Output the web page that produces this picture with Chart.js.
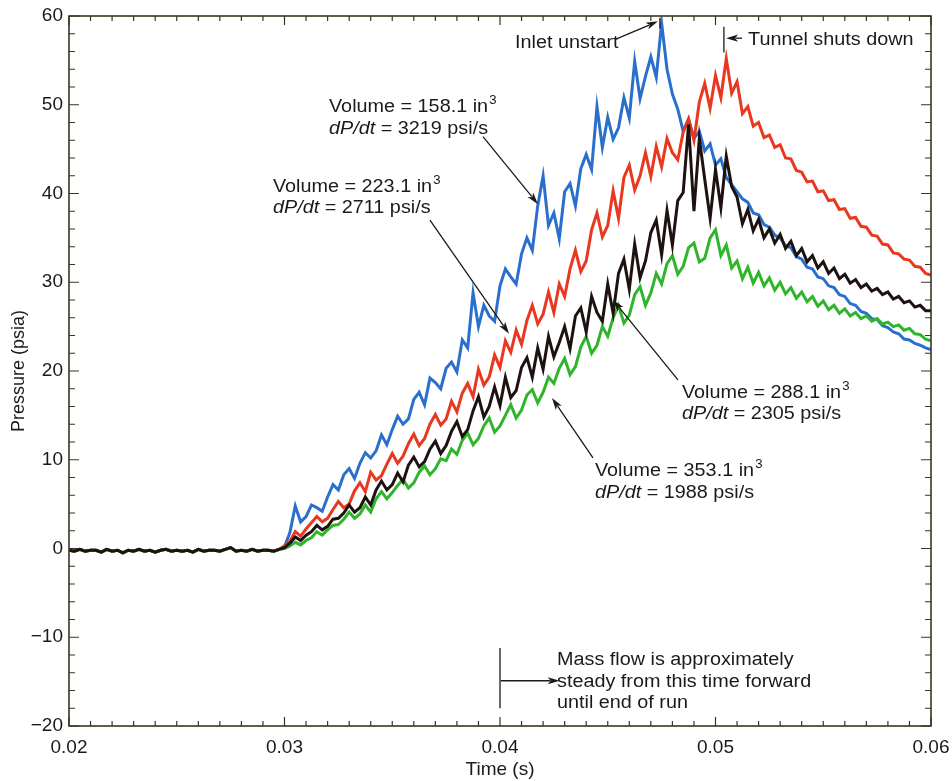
<!DOCTYPE html>
<html>
<head>
<meta charset="utf-8">
<title>Pressure vs time</title>
<script src="https://cdn.jsdelivr.net/npm/chart.js@4/dist/chart.umd.min.js"></script>
<style>
  html, body { margin: 0; padding: 0; background: #fff; }
  #chart { display: block; }
</style>
</head>
<body>
<canvas id="chart" width="952" height="781"></canvas>
<script>
// sampling of the traces (s)
const tStart = 0.02;
const tStep = 0.00025;

// pre-rise trace, 0.020 .. 0.02975 s, shared by all four runs (psia)
const pBaseline = [
  -0.2, -0.3, -0.1, -0.3, -0.2, -0.2, -0.4, -0.1, -0.3, -0.2,
  -0.5, -0.2, -0.3, -0.1, -0.3, -0.2, -0.4, -0.2, -0.1, -0.3,
  -0.2, -0.3, -0.2, -0.4, -0.1, -0.3, -0.2, -0.2, -0.3, -0.1,
  0.1, -0.3, -0.2, -0.3, -0.1, -0.3, -0.2, -0.2, -0.3, -0.1
];

// 0.030 .. 0.060 s, one value every 0.25 ms
const pVol158 = [
  0.2, 1.8, 4.8, 3.0, 3.6, 4.9, 4.6, 4.2, 5.8, 7.2,
  6.6, 8.3, 9.0, 7.9, 9.6, 10.8, 10.2, 11.0, 12.8, 11.7,
  13.4, 14.9, 14.0, 14.6, 16.8, 17.6, 16.2, 19.2, 18.7, 18.0,
  20.3, 21.0, 19.9, 23.5, 22.6, 28.8, 25.0, 27.4, 26.2, 25.6,
  29.6, 31.5, 30.6, 29.8, 33.2, 35.0, 33.6, 38.6, 42.0, 36.4,
  37.8, 34.9, 40.2, 41.1, 38.6, 42.8, 44.4, 42.7, 49.8, 45.2,
  48.6, 46.1, 47.4, 50.8, 48.5, 54.9, 50.7, 53.2, 55.4, 53.1,
  59.2, 54.0, 51.2, 49.5, 47.0, 48.4, 46.2, 47.0, 44.8, 45.6,
  43.2, 43.9, 41.8, 41.0, 40.2, 39.4, 39.0, 37.8, 37.6, 36.5,
  36.2, 35.3, 35.0, 34.1, 33.9, 32.9, 32.6, 31.7, 31.5, 30.6,
  30.4, 29.6, 29.4, 28.6, 28.4, 27.6, 27.4, 26.7, 26.5, 25.9,
  25.8, 25.1, 24.9, 24.4, 24.2, 23.6, 23.5, 23.1, 22.9, 22.6,
  22.4
];
const pVol223 = [
  0.3, 0.8, 1.9, 1.4, 2.2, 2.9, 3.6, 3.0, 3.4, 4.4,
  5.3, 4.6, 5.0, 6.5, 7.4, 6.4, 8.6, 7.7, 8.2, 9.5,
  10.7, 9.6, 10.4, 11.8, 12.9, 11.6, 12.4, 14.0, 15.1, 13.9,
  14.6, 16.6, 15.4, 17.5, 18.6, 17.1, 20.2, 18.4, 19.3, 21.8,
  20.4, 23.4, 22.1, 24.6, 23.0, 25.7, 27.4, 25.3, 26.4, 28.9,
  26.6, 29.8, 28.4, 31.5, 33.6, 31.2, 32.4, 35.9, 37.8, 35.1,
  36.4, 40.3, 37.2, 41.8, 43.2, 40.4, 42.0, 44.6, 41.9, 45.3,
  43.0, 46.2, 44.6, 43.8, 46.9, 48.4, 46.0, 50.3, 52.4, 49.6,
  53.3, 50.8, 55.2, 51.3, 52.6, 49.0, 49.8, 47.6, 48.0, 46.3,
  46.6, 45.2, 45.5, 44.0, 43.9, 42.6, 42.4, 41.3, 41.4, 40.2,
  40.3, 39.2, 39.3, 38.2, 38.3, 37.2, 37.3, 36.3, 36.2, 35.3,
  35.2, 34.3, 34.2, 33.3, 33.2, 32.6, 32.5, 31.8, 31.7, 31.0,
  30.8
];
const pVol288 = [
  0.1, 0.6, 1.3, 0.9, 1.5, 1.9, 2.6, 2.1, 2.5, 3.3,
  3.4, 4.0, 4.9, 4.1, 4.6, 5.8, 4.9, 6.6, 7.6, 6.6,
  7.2, 8.5, 7.5, 9.4, 10.3, 9.2, 9.8, 11.2, 12.1, 10.7,
  11.6, 13.2, 14.3, 12.6, 13.4, 15.5, 17.1, 14.8, 16.0, 18.2,
  16.1, 19.3, 17.0, 17.8, 20.4, 21.5, 19.3, 22.6, 20.2, 23.9,
  21.6, 23.2, 25.0, 22.5, 26.2, 27.1, 24.4, 28.4, 26.6, 25.6,
  29.8, 26.5, 31.0, 32.6, 29.2, 34.3, 30.5, 32.4, 35.6, 37.0,
  33.1, 38.1, 34.2, 39.2, 40.1, 47.8, 38.0, 46.2, 41.6, 37.2,
  42.7, 38.4, 44.2, 40.8, 39.6, 36.6, 38.2, 35.8, 37.1, 35.0,
  36.0, 34.4, 35.4, 33.8, 34.6, 33.0, 33.8, 32.3, 33.0, 31.6,
  32.3, 31.0, 31.6, 30.4, 30.9, 29.9, 30.3, 29.4, 29.8, 29.0,
  29.3, 28.6, 28.9, 28.1, 28.4, 27.7, 27.9, 27.2, 27.4, 26.8,
  26.8
];
const pVol353 = [
  0.0, 0.3, 0.7, 0.4, 0.9, 1.2, 1.9, 1.5, 2.1, 2.6,
  2.7, 3.3, 4.1, 3.4, 3.9, 4.9, 4.1, 5.6, 6.4, 5.6,
  6.3, 7.1, 7.8, 6.8, 7.4, 8.6, 9.3, 8.3, 9.0, 10.1,
  9.9, 11.2, 10.6, 12.2, 13.0, 11.7, 12.4, 13.8, 14.7, 13.1,
  13.8, 15.0, 16.2, 14.7, 15.6, 17.3, 17.9, 16.4, 17.6, 19.3,
  18.6, 20.3, 21.4, 19.6, 20.5, 22.7, 23.9, 22.0, 22.9, 25.0,
  23.9, 26.0, 27.4, 25.4, 26.3, 28.6, 29.5, 27.4, 28.8, 31.0,
  29.8, 32.1, 33.0, 30.9, 31.8, 33.9, 34.4, 32.3, 32.7, 35.0,
  35.9, 33.0, 34.2, 31.6, 32.4, 30.4, 31.7, 29.9, 31.1, 29.6,
  30.5, 29.1, 30.0, 28.7, 29.4, 28.2, 28.9, 27.8, 28.4, 27.3,
  27.9, 26.9, 27.4, 26.5, 27.0, 26.2, 26.6, 25.9, 26.2, 25.6,
  25.9, 25.3, 25.5, 25.0, 25.2, 24.6, 24.8, 24.2, 24.1, 23.6,
  23.4
];

const xTicks = [0.02, 0.03, 0.04, 0.05, 0.06];
const yTicks = [-20, -10, 0, 10, 20, 30, 40, 50, 60];

function toPoints(rise) {
  const vals = pBaseline.concat(rise);
  return vals.map((p, i) => ({ x: tStart + i * tStep, y: p }));
}

const FONT = '"Liberation Sans", Helvetica, Arial, sans-serif';
const INK = '#1c1a16';
const FRAME = '#3b3522';

// text labels: [time, pressure] of the left end of the first baseline
const notes = [
  { t: 0.032065, p: 49.18, dp: -2.48, vol: '158.1', rate: '3219' },
  { t: 0.029466, p: 40.17, dp: -2.37, vol: '223.1', rate: '2711' },
  { t: 0.048445, p: 16.96, dp: -2.37, vol: '288.1', rate: '2305' },
  { t: 0.044408, p: 8.17, dp: -2.48, vol: '353.1', rate: '1988' }
];
const arrows = [
  [0.03921, 46.4, 0.04176, 38.8],
  [0.03675, 37.0, 0.04042, 24.2],
  [0.04826, 19.0, 0.045244, 28.0],
  [0.044315, 10.2, 0.042413, 16.96],
  [0.04538, 57.4, 0.04733, 59.4],
  [0.05123, 57.5, 0.05049, 57.5],
  [0.04004, -14.9, 0.04277, -14.9]
];

function runs(ctx, x, y, parts, size) {
  ctx.save();
  ctx.translate(x, y);
  ctx.scale(1.1, 1);
  let cx = 0;
  parts.forEach(part => {
    const [txt, style] = part;
    if (style === 'sup') {
      ctx.font = Math.round(size * 0.68) + 'px ' + FONT;
      ctx.fillText(txt, cx + 1, -size * 0.42);
      cx += ctx.measureText(txt).width + 1;
    } else {
      ctx.font = (style === 'it' ? 'italic ' : '') + size + 'px ' + FONT;
      ctx.fillText(txt, cx, 0);
      cx += ctx.measureText(txt).width;
    }
  });
  ctx.restore();
}

function arrow(ctx, x1, y1, x2, y2) {
  const a = Math.atan2(y2 - y1, x2 - x1);
  const len = 12, half = 3.6;
  ctx.beginPath();
  ctx.moveTo(x1, y1);
  ctx.lineTo(x2 - Math.cos(a) * len * 0.8, y2 - Math.sin(a) * len * 0.8);
  ctx.stroke();
  ctx.beginPath();
  ctx.moveTo(x2, y2);
  ctx.lineTo(x2 - Math.cos(a) * len - Math.sin(a) * half, y2 - Math.sin(a) * len + Math.cos(a) * half);
  ctx.lineTo(x2 - Math.cos(a) * len * 0.75, y2 - Math.sin(a) * len * 0.75);
  ctx.lineTo(x2 - Math.cos(a) * len + Math.sin(a) * half, y2 - Math.sin(a) * len - Math.cos(a) * half);
  ctx.closePath();
  ctx.fill();
}

const framePlugin = {
  id: 'frame',
  afterDraw(chart) {
    const ctx = chart.ctx;
    const xs = chart.scales.x, ys = chart.scales.y;
    const a = chart.chartArea;
    ctx.save();
    ctx.strokeStyle = FRAME;
    ctx.lineWidth = 1.6;
    ctx.strokeRect(a.left, a.top, a.right - a.left, a.bottom - a.top);
    ctx.lineWidth = 1.2;
    ctx.beginPath();
    for (let i = 0; i <= 40; i++) {
      const px = xs.getPixelForValue(0.02 + i * 0.001);
      const len = i % 10 === 0 ? 9 : 5;
      ctx.moveTo(px, a.bottom); ctx.lineTo(px, a.bottom - len);
      ctx.moveTo(px, a.top); ctx.lineTo(px, a.top + len);
    }
    for (let v = -20; v <= 60; v += 2) {
      const py = ys.getPixelForValue(v);
      const len = v % 10 === 0 ? 10 : 6;
      ctx.moveTo(a.left, py); ctx.lineTo(a.left + len, py);
      ctx.moveTo(a.right, py); ctx.lineTo(a.right - len, py);
    }
    ctx.stroke();

    // annotations
    const X = t => xs.getPixelForValue(t);
    const Y = p => ys.getPixelForValue(p);
    ctx.fillStyle = INK;
    ctx.strokeStyle = INK;
    ctx.textBaseline = 'alphabetic';
    ctx.textAlign = 'left';
    notes.forEach(n => {
      runs(ctx, X(n.t), Y(n.p), [['Volume = ' + n.vol + ' in'], ['3', 'sup']], 18);
      runs(ctx, X(n.t), Y(n.p + n.dp), [['dP/dt', 'it'], [' = ' + n.rate + ' psi/s']], 18);
    });
    runs(ctx, X(0.0407), Y(56.4), [['Inlet unstart']], 18);
    runs(ctx, X(0.05151), Y(56.7), [['Tunnel shuts down']], 18);
    runs(ctx, X(0.042645), Y(-13.1), [['Mass flow is approximately']], 18);
    runs(ctx, X(0.042645), Y(-15.55), [['steady from this time forward']], 18);
    runs(ctx, X(0.042645), Y(-17.95), [['until end of run']], 18);

    ctx.lineWidth = 1.3;
    arrows.forEach(([t1, p1, t2, p2]) => arrow(ctx, X(t1), Y(p1), X(t2), Y(p2)));
    ctx.beginPath();
    ctx.moveTo(X(0.04742), Y(59.8)); ctx.lineTo(X(0.04742), Y(58.6));
    ctx.moveTo(X(0.05039), Y(58.8)); ctx.lineTo(X(0.05039), Y(55.9));
    ctx.moveTo(X(0.04), Y(-11.2)); ctx.lineTo(X(0.04), Y(-18.0));
    ctx.stroke();
    ctx.restore();
  }
};

const tickFont = { family: FONT, size: 19 };

new Chart(document.getElementById('chart'), {
  type: 'line',
  data: {
    datasets: [
      { label: '288.1 in3', data: toPoints(pVol288), borderColor: '#1d1210' },
      { label: '353.1 in3', data: toPoints(pVol353), borderColor: '#2eb52a' },
      { label: '223.1 in3', data: toPoints(pVol223), borderColor: '#e9381f' },
      { label: '158.1 in3', data: toPoints(pVol158), borderColor: '#2b6fcc' }
    ]
  },
  options: {
    responsive: false,
    animation: false,
    devicePixelRatio: 1,
    layout: { padding: { top: 16, right: 21, left: 0, bottom: 0 } },
    elements: {
      point: { radius: 0 },
      line: { borderWidth: 3, tension: 0 }
    },
    plugins: {
      legend: { display: false },
      tooltip: { enabled: false }
    },
    scales: {
      x: {
        type: 'linear',
        min: 0.02,
        max: 0.06,
        afterFit: s => { s.height = 55; s.paddingLeft = 0; s.paddingRight = 0; },
        afterBuildTicks: s => { s.ticks = xTicks.map(v => ({ value: v })); },
        grid: { display: false, drawTicks: false },
        border: { display: false },
        ticks: {
          color: INK,
          font: tickFont,
          padding: 10,
          maxRotation: 0,
          callback: v => v.toFixed(2)
        },
        title: {
          display: true,
          text: 'Time (s)',
          color: INK,
          font: { family: FONT, size: 19 },
          padding: { top: 0, bottom: 0 }
        }
      },
      y: {
        type: 'linear',
        min: -20,
        max: 60,
        afterFit: s => { s.width = 69; s.paddingTop = 0; s.paddingBottom = 0; },
        afterBuildTicks: s => { s.ticks = yTicks.map(v => ({ value: v })); },
        grid: { display: false, drawTicks: false },
        border: { display: false },
        ticks: {
          color: INK,
          font: tickFont,
          padding: 6,
          callback: v => String(v).replace('-', '\u2212')
        },
        title: {
          display: true,
          text: 'Pressure (psia)',
          color: INK,
          font: { family: FONT, size: 18 },
          padding: { top: 8, bottom: 0 }
        }
      }
    }
  },
  plugins: [framePlugin]
});
</script>
</body>
</html>
